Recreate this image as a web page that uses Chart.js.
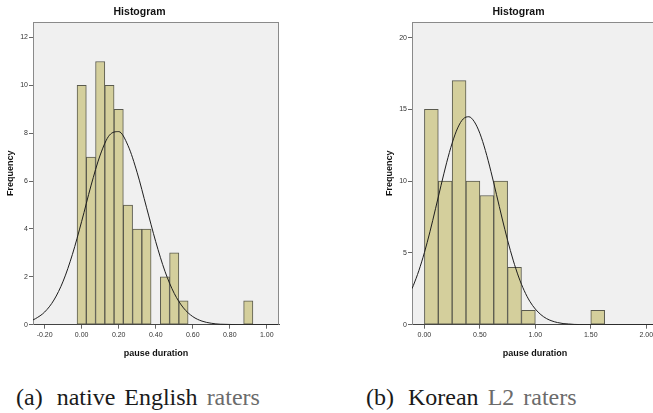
<!DOCTYPE html>
<html>
<head>
<meta charset="utf-8">
<script src="https://cdn.jsdelivr.net/npm/chart.js@4.4.1/dist/chart.umd.min.js"></script>
<style>
html,body{margin:0;padding:0;background:#fff;width:653px;height:413px;overflow:hidden;position:relative;}
canvas{position:absolute;top:0;}
#c1{left:0;}
#c2{left:379px;}
.cap{position:absolute;top:383px;font-family:"Liberation Serif",serif;font-size:24px;line-height:28px;color:#1a1a1a;white-space:nowrap;word-spacing:3px;}
.cap .g{color:#6b6b6b;}
.cap .w{margin-left:5px;}
</style>
</head>
<body>
<canvas id="c1" width="370" height="362"></canvas>
<canvas id="c2" width="370" height="362"></canvas>
<div class="cap" style="left:16px;">(a) <span class="w">native English</span> <span class="g">raters</span></div>
<div class="cap" style="left:366px;">(b) <span class="w">Korean</span> <span class="g">L2 raters</span></div>
<script>
// ---- Panel (a): native English raters ----
const binsA   = [0.00,0.05,0.10,0.15,0.20,0.25,0.30,0.35,0.40,0.45,0.50,0.55,0.60,0.65,0.70,0.75,0.80,0.85,0.90];
const countsA = [10,7,11,10,9,5,4,4,0,2,3,1,0,0,0,0,0,0,1];
const curveAx = [-0.263,-0.25,-0.20,-0.15,-0.10,-0.05,0.00,0.05,0.10,0.15,0.20,0.25,0.30,0.35,0.40,0.45,0.50,0.55,0.60,0.65,0.70,0.75,0.80,0.85,0.90,1.00,1.066];
const curveAy = [0.20,0.25,0.53,1.03,1.82,2.94,4.32,5.80,7.09,7.92,8.07,7.49,6.35,4.91,3.47,2.23,1.31,0.70,0.34,0.15,0.06,0.02,0.01,0,0,0,0];
const xTicksA = [-0.20,0.00,0.20,0.40,0.60,0.80,1.00];
const yTicksA = [0,2,4,6,8,10,12];

// ---- Panel (b): Korean L2 raters ----
const binsB   = [0.0625,0.1875,0.3125,0.4375,0.5625,0.6875,0.8125,0.9375,1.0625,1.1875,1.3125,1.4375,1.5625];
const countsB = [15,10,17,10,9,10,4,1,0,0,0,0,1];
const curveBx = [-0.112,-0.10,-0.05,0.00,0.05,0.10,0.15,0.20,0.25,0.30,0.35,0.40,0.45,0.50,0.55,0.60,0.65,0.70,0.75,0.80,0.85,0.90,0.95,1.00,1.05,1.10,1.15,1.20,1.25,1.30,1.35,1.40,1.50,1.75,2.00,2.106];
const curveBy = [2.51,2.73,3.77,5.03,6.48,8.08,9.71,11.28,12.65,13.71,14.34,14.49,14.14,13.33,12.13,10.67,9.06,7.43,5.88,4.50,3.32,2.37,1.63,1.09,0.70,0.43,0.26,0.15,0.08,0.05,0.02,0.01,0,0,0,0];
const xTicksB = [0.00,0.50,1.00,1.50,2.00];
const yTicksB = [0,5,10,15,20];

const titleText = 'Histogram';
const xTitle = 'pause duration';
const yTitle = 'Frequency';

const plotFrame = {
  id: 'plotFrame',
  beforeDraw(chart) {
    const {ctx, chartArea: a} = chart;
    ctx.save();
    ctx.fillStyle = '#f0f0f0';
    ctx.fillRect(a.left, a.top, a.right - a.left, a.bottom - a.top);
    ctx.restore();
  },
  afterDraw(chart) {
    const {ctx, chartArea: a} = chart;
    ctx.save();
    ctx.strokeStyle = '#8a8a8a';
    ctx.lineWidth = 1;
    ctx.beginPath();
    ctx.moveTo(a.left, Math.round(a.top) + 0.5);
    ctx.lineTo(a.right, Math.round(a.top) + 0.5);
    ctx.moveTo(Math.round(a.right) - 0.5, a.top);
    ctx.lineTo(Math.round(a.right) - 0.5, a.bottom);
    ctx.stroke();
    ctx.restore();
  }
};

function makeChart(id, bins, counts, cx, cy, xTicks, yTicks, xmin, xmax, ymax) {
  const tickFont = {family: 'Liberation Sans', size: 7};
  return new Chart(document.getElementById(id), {
    type: 'bar',
    data: {
      datasets: [
        {
          type: 'line',
          data: cx.map((x, i) => ({x: x, y: cy[i]})),
          borderColor: '#1e1e1e',
          borderWidth: 1,
          pointRadius: 0,
          fill: false,
          cubicInterpolationMode: 'monotone',
          order: 0
        },
        {
          type: 'bar',
          data: bins.map((x, i) => ({x: x, y: counts[i]})),
          backgroundColor: '#d4cf9c',
          borderColor: '#5a5a4e',
          borderWidth: 1,
          borderSkipped: false,
          barPercentage: 1,
          categoryPercentage: 1,
          grouped: false,
          order: 1
        }
      ]
    },
    options: {
      responsive: false,
      animation: false,
      events: [],
      layout: {padding: {left: 0, right: 91, top: 0, bottom: 0}},
      plugins: {
        legend: {display: false},
        tooltip: {enabled: false},
        title: {
          display: true,
          text: titleText,
          color: '#111',
          font: {family: 'Liberation Sans', size: 10.5, weight: 'bold'},
          padding: {top: 5.5, bottom: 3.9}
        }
      },
      scales: {
        x: {
          type: 'linear',
          min: xmin,
          max: xmax,
          offset: false,
          afterBuildTicks: (s) => { s.ticks = xTicks.map(v => ({value: v})); },
          afterFit: (s) => { s.height = 37.3; },
          ticks: {
            font: tickFont,
            color: '#333',
            padding: 2,
            maxRotation: 0,
            autoSkip: false,
            callback: (v) => Number(v).toFixed(2)
          },
          grid: {display: true, drawOnChartArea: false, drawTicks: true, tickLength: 4, color: '#666', offset: false},
          border: {display: true, color: '#444', width: 1},
          title: {
            display: true,
            text: xTitle,
            color: '#111',
            font: {family: 'Liberation Sans', size: 9, weight: 'bold'},
            padding: {top: 0, bottom: 2.9}
          }
        },
        y: {
          type: 'linear',
          min: 0,
          max: ymax,
          afterBuildTicks: (s) => { s.ticks = yTicks.map(v => ({value: v})); },
          afterFit: (s) => { s.width = 33; },
          ticks: {
            font: tickFont,
            color: '#333',
            padding: 1,
            autoSkip: false,
            callback: (v) => String(v)
          },
          grid: {display: true, drawOnChartArea: false, drawTicks: true, tickLength: 4, color: '#666'},
          border: {display: true, color: '#8a8a8a', width: 1},
          title: {
            display: true,
            text: yTitle,
            color: '#111',
            font: {family: 'Liberation Sans', size: 9, weight: 'bold'},
            padding: {top: 5.6, bottom: 0}
          }
        }
      }
    },
    plugins: [plotFrame]
  });
}

makeChart('c1', binsA, countsA, curveAx, curveAy, xTicksA, yTicksA, -0.263, 1.066, 12.65);
makeChart('c2', binsB, countsB, curveBx, curveBy, xTicksB, yTicksB, -0.112, 2.106, 21.09);
</script>
</body>
</html>
